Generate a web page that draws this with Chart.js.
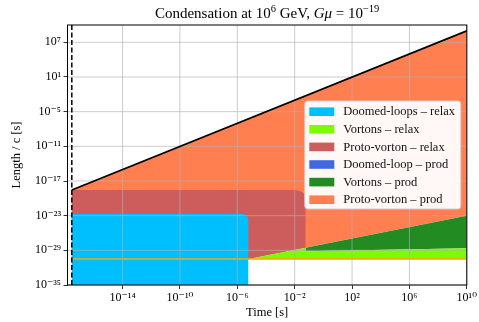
<!DOCTYPE html>
<html>
<head>
<meta charset="utf-8">
<script src="https://cdn.jsdelivr.net/npm/chart.js@4.4.1/dist/chart.umd.min.js"></script>
<style>
html,body{margin:0;padding:0;background:#fff}
#wrap{width:479px;height:322px}
</style>
</head>
<body>
<div id="wrap"><canvas id="chart" width="479" height="322"></canvas></div>
<script>
// axis ticks (powers of ten) and limits
var xtickexp = [-14,-10,-6,-2,2,6,10]
var ytickexp = [-35,-29,-23,-17,-11,-5,1,7]
var xlim = [1.45e-18, 1e10]
var ylim = [1e-35, 1e10]

// horizon, L/c = 0.1 t
var horizont = [2.9e-18, 1e10]
var horizonl = [2.8e-19, 1e9]
// dashed line at condensation time
var startt = [2.9e-18, 2.9e-18]
var startl = [1e-35, 1e10]
// orange line (minimum length)
var minlt = [2.9e-18, 1e10]
var minll = [3.2e-31, 3.2e-31]

// regions
var protoprodt = [2.9e-18, 1e10, 1e10, 5.8e-6, 2.9e-18]
var protoprodl = [2.8e-19, 1e9, 1e-23, 3.2e-31, 3.2e-31]

var protorelaxt = [2.9e-18, 1.06e-2, 2.0e-2, 3.5e-2, 5.0e-2, 5.7e-2, 5.7e-2, 5.8e-6, 2.9e-18]
var protorelaxl = [2.8e-19, 2.8e-19, 2.1e-19, 1.1e-19, 3.9e-20, 1.1e-20, 2.8e-29, 3.2e-31, 3.2e-31]

var doomedrelaxt = [2.9e-18, 2.48e-6, 3.43e-6, 4.5e-6, 5.46e-6, 5.82e-6, 5.82e-6, 2.9e-18]
var doomedrelaxl = [2.0e-23, 2.0e-23, 1.4e-23, 9.1e-24, 3.9e-24, 1.4e-24, 1e-35, 1e-35]

var vortrelaxt = [5.8e-6, 5.7e-2, 5.7e-2, 1e10, 1e10]
var vortrelaxl = [3.2e-31, 2.8e-29, 7.2e-30, 2.3e-29, 3.2e-31]

var vortprodt = [5.7e-2, 1e10, 1e10, 5.7e-2]
var vortprodl = [2.8e-29, 1e-23, 2.3e-29, 7.2e-30]

var doomedprodt = []
var doomedprodl = []

// title pieces: [text, style]  (n normal, i italic, s superscript)
var titleparts = [['Condensation at 10','n'],['6','s'],[' GeV, ','n'],['G\u03bc','i'],[' = 10','n'],['\u221219','s']]

var serif = "'Liberation Serif', 'DejaVu Serif', serif"
var supmap = {'-':'\u207b','0':'\u2070','1':'\u00b9','2':'\u00b2','3':'\u00b3','4':'\u2074','5':'\u2075','6':'\u2076','7':'\u2077','8':'\u2078','9':'\u2079'}

function sup(s){
    var r = ''
    for(var i=0;i<s.length;i++) r += supmap[s[i]]
    return r
}
function pow10label(v){
    return '10' + sup(String(Math.round(Math.log10(v))))
}
function pts(xs, ys){
    var r = []
    for(var i=0;i<xs.length;i++) r.push({x: xs[i], y: ys[i]})
    return r
}
function region(label, xs, ys, color, order){
    return {label: label, data: pts(xs, ys), backgroundColor: color, borderWidth: 0,
            pointRadius: 0, fill: 'shape', order: order, inlegend: true}
}
function line(xs, ys, color, width, dash, order){
    return {data: pts(xs, ys), borderColor: color, borderWidth: width, borderDash: dash,
            pointRadius: 0, fill: false, order: order, inlegend: false}
}
function partfont(st){
    if (st == 'i') return 'italic 15px ' + serif
    if (st == 's') return '10.5px ' + serif
    return '15px ' + serif
}

function drawgrid(chart){
    var ctx = chart.ctx, a = chart.chartArea
    var xs = chart.scales.x, ys = chart.scales.y
    ctx.save()
    ctx.strokeStyle = 'rgba(176,176,176,0.8)'
    ctx.lineWidth = 0.8
    xs.ticks.forEach(function(t){
        var p = xs.getPixelForValue(t.value)
        ctx.beginPath(); ctx.moveTo(p, a.top); ctx.lineTo(p, a.bottom); ctx.stroke()
    })
    ys.ticks.forEach(function(t){
        var p = ys.getPixelForValue(t.value)
        ctx.beginPath(); ctx.moveTo(a.left, p); ctx.lineTo(a.right, p); ctx.stroke()
    })
    ctx.restore()
}

function drawtitle(chart){
    var ctx = chart.ctx, a = chart.chartArea
    ctx.save()
    ctx.textBaseline = 'alphabetic'
    ctx.textAlign = 'left'
    ctx.fillStyle = '#000'
    var total = 0
    titleparts.forEach(function(p){ ctx.font = partfont(p[1]); total += ctx.measureText(p[0]).width })
    var x = (a.left + a.right) / 2 - total / 2, base = 18
    titleparts.forEach(function(p){
        ctx.font = partfont(p[1])
        ctx.fillText(p[0], x, p[1] == 's' ? base - 6 : base)
        x += ctx.measureText(p[0]).width
    })
    ctx.restore()
}

var overlay = {
    id: 'overlay',
    beforeDatasetDraw: function(chart, args){
        // grid goes above the filled regions, below the lines
        if (chart.data.datasets[args.index].order === 3) drawgrid(chart)
    },
    afterDatasetsDraw: function(chart){
        var ctx = chart.ctx, a = chart.chartArea
        ctx.save()
        ctx.strokeStyle = '#000'
        ctx.lineWidth = 1
        ctx.strokeRect(a.left, a.top, a.right - a.left, a.bottom - a.top)
        ctx.restore()
    },
    afterDraw: function(chart){
        var ctx = chart.ctx, a = chart.chartArea
        drawtitle(chart)
        var items = chart.data.datasets.filter(function(d){ return d.inlegend })
        var w = 156, h = 108
        var bx = a.right - 6 - w, by = (a.top + a.bottom) / 2 - h / 2
        ctx.save()
        ctx.fillStyle = 'rgba(255,255,255,0.95)'
        ctx.strokeStyle = '#d0d0d0'
        ctx.lineWidth = 1
        ctx.beginPath()
        ctx.roundRect(bx, by, w, h, 3)
        ctx.fill(); ctx.stroke()
        ctx.font = '12.5px ' + serif
        ctx.textBaseline = 'middle'
        ctx.textAlign = 'left'
        items.forEach(function(d, i){
            var cy = by + 10.7 + i * 17.6
            ctx.fillStyle = d.backgroundColor
            ctx.fillRect(bx + 4.5, cy - 4.3, 25, 8.6)
            ctx.fillStyle = '#111'
            ctx.fillText(d.label, bx + 38.5, cy + 0.5)
        })
        ctx.restore()
    }
}

var datasets = [
    region('Doomed-loops \u2013 relax', doomedrelaxt, doomedrelaxl, '#00bfff', 8),
    region('Vortons \u2013 relax', vortrelaxt, vortrelaxl, '#7cfc00', 7),
    region('Proto-vorton \u2013 relax', protorelaxt, protorelaxl, '#cd5c5c', 9),
    region('Doomed-loop \u2013 prod', doomedprodt, doomedprodl, '#4169e1', 6),
    region('Vortons \u2013 prod', vortprodt, vortprodl, '#228b22', 7),
    region('Proto-vorton \u2013 prod', protoprodt, protoprodl, '#ff7f50', 10),
    line(minlt, minll, '#ffa500', 1.5, [], 3),
    line(horizont, horizonl, '#000', 1.8, [], 2),
    line(startt, startl, '#000', 1.5, [5, 2.5], 1)
]

var config = {
    type: 'line',
    data: {datasets: datasets},
    options: {
        responsive: false,
        animation: false,
        events: [],
        layout: {padding: {top: 25, left: 0, right: 12, bottom: 0}},
        plugins: {
            legend: {display: false},
            tooltip: {enabled: false},
            title: {display: false}
        },
        scales: {
            x: {
                type: 'logarithmic',
                min: xlim[0], max: xlim[1],
                afterBuildTicks: function(axis){
                    axis.ticks = xtickexp.map(function(e){ return {value: Math.pow(10, e)} })
                },
                afterFit: function(axis){ axis.height = 37 },
                grid: {drawOnChartArea: false, drawTicks: true, tickLength: 4, tickColor: '#000', tickWidth: 0.8},
                border: {display: false},
                ticks: {
                    autoSkip: false, maxRotation: 0, padding: 2, color: '#000',
                    font: {family: serif, size: 12},
                    callback: function(v){ return pow10label(v) }
                },
                title: {display: true, text: 'Time [s]', color: '#000',
                        font: {family: serif, size: 12.5}, padding: {top: 0, bottom: 1.5}}
            },
            y: {
                type: 'logarithmic',
                min: ylim[0], max: ylim[1],
                afterBuildTicks: function(axis){
                    axis.ticks = ytickexp.map(function(e){ return {value: Math.pow(10, e)} })
                },
                afterFit: function(axis){ axis.width = 67.5 },
                grid: {drawOnChartArea: false, drawTicks: true, tickLength: 4, tickColor: '#000', tickWidth: 0.8},
                border: {display: false},
                ticks: {
                    autoSkip: false, padding: 2.5, color: '#000',
                    font: {family: serif, size: 12},
                    callback: function(v){ return pow10label(v) }
                },
                title: {display: true, text: 'Length / c [s]', color: '#000',
                        font: {family: serif, size: 12.5}, padding: {top: 9, bottom: 0}}
            }
        }
    },
    plugins: [overlay]
}

var chart = new Chart(document.getElementById('chart').getContext('2d'), config)
</script>
</body>
</html>
